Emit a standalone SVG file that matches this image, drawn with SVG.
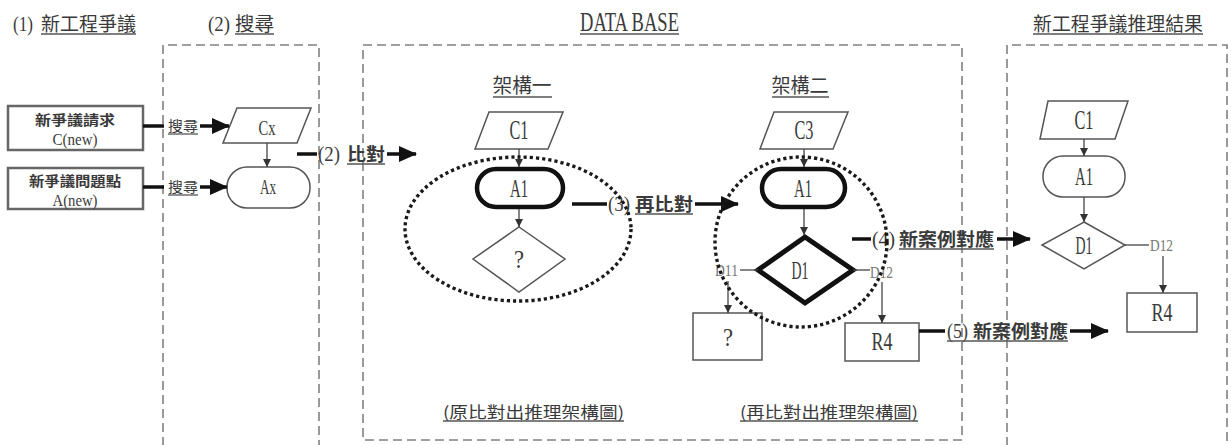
<svg xmlns="http://www.w3.org/2000/svg" width="1231" height="445" viewBox="0 0 1231 445">
<style>
.bg{fill:#fff}
.t{font-family:"Liberation Serif","Noto Sans CJK TC",serif;fill:#3a3a3a}
.c{font-family:"Noto Sans CJK TC","Noto Sans CJK SC",sans-serif;fill:#3a3a3a}
.b{font-weight:bold}
.g{fill:#777}
.dash{fill:none;stroke:#808080;stroke-width:1.6;stroke-dasharray:9 5}
.dot{fill:none;stroke:#1a1a1a;stroke-width:3.4;stroke-dasharray:3.2 3}
.shape{fill:#fff;stroke:#555;stroke-width:1.5}
.thick{fill:#fff;stroke:#111;stroke-width:4.5}
.box{fill:#fff;stroke:#666;stroke-width:2.5}
.ul{stroke:#555;stroke-width:1.3}
.big{stroke:#111;stroke-width:3.5;fill:none}
.thin{stroke:#444;stroke-width:1.3;fill:none}
</style>
<defs>
<marker id="ah" viewBox="0 0 18 16" refX="17" refY="8" markerWidth="18" markerHeight="16" markerUnits="userSpaceOnUse" orient="auto"><path d="M0,0 L18,8 L0,16 Z" fill="#111"/></marker>
<marker id="sh" viewBox="0 0 8 8" refX="8" refY="4" markerWidth="8" markerHeight="8" markerUnits="userSpaceOnUse" orient="auto"><path d="M0,0 L8,4 L0,8 Z" fill="#333"/></marker>
</defs>
<rect class="bg" x="0" y="0" width="1231" height="445"/>

<g id="titles">
<text class="t" x="13" y="31" font-size="22" textLength="20" lengthAdjust="spacingAndGlyphs">(1)</text>
<text class="c" x="41" y="31" font-size="19" textLength="95" lengthAdjust="spacingAndGlyphs">新工程爭議</text>
<line class="ul" x1="41" y1="34" x2="136" y2="34"/>
<text class="t" x="208" y="31" font-size="22" textLength="22" lengthAdjust="spacingAndGlyphs">(2)</text>
<text class="c" x="235" y="31" font-size="19" textLength="39" lengthAdjust="spacingAndGlyphs">搜尋</text>
<line class="ul" x1="235" y1="34" x2="274" y2="34"/>
<text class="t" x="580" y="31" font-size="27" textLength="99" lengthAdjust="spacingAndGlyphs">DATA BASE</text>
<line class="ul" x1="580" y1="34" x2="679" y2="34"/>
<text class="c" x="1033" y="31" font-size="19" textLength="170" lengthAdjust="spacingAndGlyphs">新工程爭議推理結果</text>
<line class="ul" x1="1033" y1="34" x2="1203" y2="34"/>
</g>

<g id="panels">
<path class="dash" d="M163,460 V45 H319 V460"/>
<rect class="dash" x="363" y="45" width="599" height="395"/>
<path class="dash" d="M1007,460 V45 H1227 V460"/>
</g>

<g id="req">
<rect class="box" x="8" y="106" width="135" height="44"/>
<text class="c b" x="75" y="125" font-size="14" text-anchor="middle" textLength="80" lengthAdjust="spacingAndGlyphs">新爭議請求</text>
<text class="t" x="75" y="145" font-size="16" text-anchor="middle" textLength="45" lengthAdjust="spacingAndGlyphs">C(new)</text>
</g>
<g id="issue">
<rect class="box" x="8" y="168" width="135" height="41"/>
<text class="c b" x="75" y="186" font-size="14" text-anchor="middle" textLength="92" lengthAdjust="spacingAndGlyphs">新爭議問題點</text>
<text class="t" x="75" y="206" font-size="16" text-anchor="middle" textLength="45" lengthAdjust="spacingAndGlyphs">A(new)</text>
</g>

<g id="cx">
<path class="shape" d="M237,108 H311 L297,143 H223 Z"/>
<text class="t" x="267" y="135" font-size="22" text-anchor="middle" textLength="17" lengthAdjust="spacingAndGlyphs">Cx</text>
</g>
<g id="ax">
<rect class="shape" x="227" y="167" width="83" height="41" rx="20"/>
<text class="t" x="268" y="194" font-size="22" text-anchor="middle" textLength="16" lengthAdjust="spacingAndGlyphs">Ax</text>
</g>

<g id="f1-label">
<text class="c" x="522" y="93" font-size="20" text-anchor="middle" textLength="59" lengthAdjust="spacingAndGlyphs">架構一</text>
<line class="ul" x1="493" y1="97" x2="552" y2="97"/>
</g>
<g id="f1-c1">
<path class="shape" d="M489,112 H563 L548,149 H475 Z"/>
<text class="t" x="519" y="139" font-size="28" text-anchor="middle" textLength="19" lengthAdjust="spacingAndGlyphs">C1</text>
</g>
<g id="f1-a1">
<rect class="thick" x="477" y="169" width="86" height="38" rx="19"/>
<text class="t" x="519" y="197" font-size="25" text-anchor="middle" textLength="18" lengthAdjust="spacingAndGlyphs">A1</text>
</g>
<g id="f1-q">
<path class="shape" d="M519,227 L565,259 L519,292 L473,259 Z"/>
<text class="t" x="519" y="268" font-size="25" text-anchor="middle" textLength="10" lengthAdjust="spacingAndGlyphs">?</text>
</g>

<g id="f2-label">
<text class="c" x="800" y="93" font-size="20" text-anchor="middle" textLength="57" lengthAdjust="spacingAndGlyphs">架構二</text>
<line class="ul" x1="772" y1="97" x2="829" y2="97"/>
</g>
<g id="f2-c3">
<path class="shape" d="M774,112 H848 L833,149 H760 Z"/>
<text class="t" x="804" y="139" font-size="28" text-anchor="middle" textLength="19" lengthAdjust="spacingAndGlyphs">C3</text>
</g>
<g id="f2-a1">
<rect class="thick" x="762" y="169" width="83" height="38" rx="19"/>
<text class="t" x="803" y="197" font-size="25" text-anchor="middle" textLength="18" lengthAdjust="spacingAndGlyphs">A1</text>
</g>
<g id="f2-d1">
<path d="M805,237 L853,270 L805,303 L758,270 Z" fill="#fff" stroke="#111" stroke-width="5"/>
<text class="t" x="800" y="279" font-size="26" text-anchor="middle" textLength="17" lengthAdjust="spacingAndGlyphs">D1</text>
</g>
<g id="f2-q">
<rect class="shape" x="693" y="313" width="69" height="47"/>
<text class="t" x="728" y="346" font-size="25" text-anchor="middle" textLength="10" lengthAdjust="spacingAndGlyphs">?</text>
</g>
<g id="f2-r4">
<rect class="shape" x="845" y="323" width="74" height="38"/>
<text class="t" x="882" y="350" font-size="25" text-anchor="middle" textLength="21" lengthAdjust="spacingAndGlyphs">R4</text>
</g>

<g id="r-c1">
<path class="shape" d="M1048,101 H1128 L1115,139 H1040 Z"/>
<text class="t" x="1084" y="129" font-size="28" text-anchor="middle" textLength="19" lengthAdjust="spacingAndGlyphs">C1</text>
</g>
<g id="r-a1">
<rect class="shape" x="1043" y="156" width="82" height="41" rx="20"/>
<text class="t" x="1084" y="185" font-size="25" text-anchor="middle" textLength="18" lengthAdjust="spacingAndGlyphs">A1</text>
</g>
<g id="r-d1">
<path class="shape" d="M1084,222 L1125,245 L1084,269 L1042,245 Z"/>
<text class="t" x="1084" y="254" font-size="25" text-anchor="middle" textLength="17" lengthAdjust="spacingAndGlyphs">D1</text>
</g>
<g id="r-r4">
<rect class="shape" x="1127" y="293" width="70" height="39"/>
<text class="t" x="1162" y="321" font-size="25" text-anchor="middle" textLength="21" lengthAdjust="spacingAndGlyphs">R4</text>
</g>

<g id="bottom-labels">
<text class="c" x="443" y="418" font-size="16" textLength="181" lengthAdjust="spacingAndGlyphs">(原比對出推理架構圖)</text>
<line class="ul" x1="443" y1="421" x2="624" y2="421"/>
<text class="c" x="740" y="418" font-size="16" textLength="178" lengthAdjust="spacingAndGlyphs">(再比對出推理架構圖)</text>
<line class="ul" x1="740" y1="421" x2="918" y2="421"/>
</g>

<g id="connectors">
<line class="big" x1="143" y1="126" x2="164" y2="126"/>
<line class="big" x1="200" y1="126" x2="229" y2="126" marker-end="url(#ah)"/>
<line class="big" x1="143" y1="187" x2="164" y2="187"/>
<line class="big" x1="200" y1="187" x2="227" y2="187" marker-end="url(#ah)"/>
<line class="thin" x1="267" y1="143" x2="267" y2="167" marker-end="url(#sh)"/>
<line class="big" x1="297" y1="154" x2="317" y2="154"/>
<line class="big" x1="387" y1="154" x2="416" y2="154" marker-end="url(#ah)"/>
<line class="thin" x1="519" y1="149" x2="519" y2="167" marker-end="url(#sh)"/>
<line class="thin" x1="519" y1="209" x2="519" y2="227" marker-end="url(#sh)"/>
<line class="big" x1="572" y1="204" x2="607" y2="204"/>
<line class="big" x1="695" y1="204" x2="738" y2="204" marker-end="url(#ah)"/>
<line class="thin" x1="804" y1="149" x2="804" y2="167" marker-end="url(#sh)"/>
<line class="thin" x1="804" y1="209" x2="804" y2="235" marker-end="url(#sh)"/>
<line class="thin" x1="740" y1="270" x2="758" y2="270"/>
<line class="thin" x1="728" y1="281" x2="728" y2="313" marker-end="url(#sh)"/>
<line class="thin" x1="853" y1="270" x2="870" y2="270"/>
<line class="thin" x1="882" y1="282" x2="882" y2="323" marker-end="url(#sh)"/>
<line class="big" x1="852" y1="239" x2="871" y2="239"/>
<line class="big" x1="997" y1="239" x2="1030" y2="239" marker-end="url(#ah)"/>
<line class="big" x1="919" y1="331" x2="945" y2="331"/>
<line class="big" x1="1070" y1="331" x2="1108" y2="331" marker-end="url(#ah)"/>
<line class="thin" x1="1084" y1="139" x2="1084" y2="156" marker-end="url(#sh)"/>
<line class="thin" x1="1084" y1="197" x2="1084" y2="222" marker-end="url(#sh)"/>
<line class="thin" x1="1125" y1="245" x2="1149" y2="245"/>
<line class="thin" x1="1163" y1="256" x2="1163" y2="293" marker-end="url(#sh)"/>
</g>

<g id="connector-labels">
<text class="c" x="168" y="131" font-size="14" textLength="30" lengthAdjust="spacingAndGlyphs">搜尋</text>
<line class="ul" x1="168" y1="134" x2="198" y2="134"/>
<text class="c" x="168" y="192" font-size="14" textLength="30" lengthAdjust="spacingAndGlyphs">搜尋</text>
<line class="ul" x1="168" y1="195" x2="198" y2="195"/>
<text class="t" x="318" y="161" font-size="21" textLength="22" lengthAdjust="spacingAndGlyphs">(2)</text>
<text class="c b" x="347" y="161" font-size="18" textLength="38" lengthAdjust="spacingAndGlyphs">比對</text>
<line class="ul" x1="347" y1="164" x2="385" y2="164"/>
<text class="t" x="608" y="211" font-size="21" textLength="22" lengthAdjust="spacingAndGlyphs">(3)</text>
<text class="c b" x="635" y="211" font-size="18" textLength="58" lengthAdjust="spacingAndGlyphs">再比對</text>
<line class="ul" x1="635" y1="214" x2="693" y2="214"/>
<text class="t" x="872" y="246" font-size="21" textLength="23" lengthAdjust="spacingAndGlyphs">(4)</text>
<text class="c b" x="899" y="246" font-size="18" textLength="95" lengthAdjust="spacingAndGlyphs">新案例對應</text>
<line class="ul" x1="899" y1="249" x2="994" y2="249"/>
<text class="t" x="947" y="338" font-size="21" textLength="21" lengthAdjust="spacingAndGlyphs">(5)</text>
<text class="c b" x="973" y="338" font-size="18" textLength="95" lengthAdjust="spacingAndGlyphs">新案例對應</text>
<line class="ul" x1="947" y1="341" x2="1068" y2="341"/>
<text class="t g" x="715" y="276" font-size="17" textLength="23" lengthAdjust="spacingAndGlyphs">D11</text>
<text class="t g" x="870" y="278" font-size="17" textLength="23" lengthAdjust="spacingAndGlyphs">D12</text>
<text class="t g" x="1150" y="251" font-size="17" textLength="23" lengthAdjust="spacingAndGlyphs">D12</text>
</g>

<g id="groupings">
<ellipse class="dot" cx="518" cy="229" rx="113" ry="72"/>
<ellipse class="dot" cx="801" cy="242" rx="86" ry="85"/>
</g>
</svg>
